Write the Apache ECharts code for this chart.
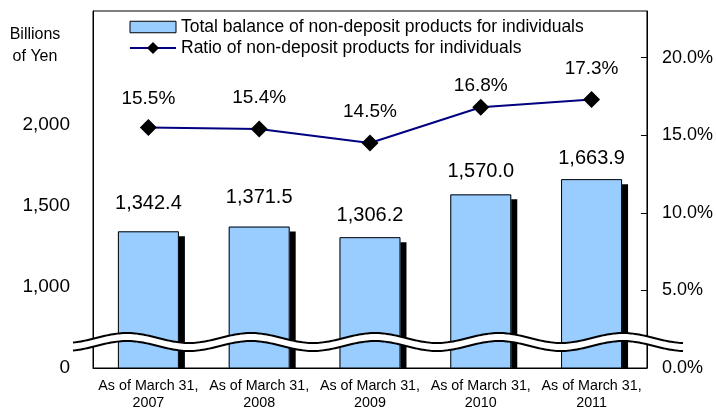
<!DOCTYPE html>
<html>
<head>
<meta charset="utf-8">
<script src="https://cdn.jsdelivr.net/npm/echarts@6/dist/echarts.min.js"></script>
<style>
html,body{margin:0;padding:0;background:#fff;}
#chart{width:716px;height:412px;}
</style>
</head>
<body>
<div id="chart"></div>
<script>
var categories = ["As of March 31,\n2007", "As of March 31,\n2008", "As of March 31,\n2009", "As of March 31,\n2010", "As of March 31,\n2011"];
var balanceValues = [1342.4, 1371.5, 1306.2, 1570.0, 1663.9];
var ratioValues = [15.5, 15.4, 14.5, 16.8, 17.3];
var seriesNames = ["Total balance of non-deposit products for individuals", "Ratio of non-deposit products for individuals"];
var leftAxisName = "Billions\nof Yen";

var FONT = "'Liberation Sans', Arial, sans-serif";
var chart = echarts.init(document.getElementById('chart'), null, {renderer: 'canvas'});

// decorative axis-break wave
function wavePts(offset) {
  var pts = [];
  for (var x = 73; x <= 683; x += 2) {
    pts.push([x, 338 - 5 * Math.cos(2 * Math.PI * (x - 127) / 124) + offset]);
  }
  return pts;
}
var up = wavePts(0), lo = wavePts(8);
var band = up.concat(lo.slice().reverse());

var barLabelDist = [18, 19, 12, 13, 11];
var lineLabelDist = [11, 13, 13, 3, 13];

var option = {
  animation: false,
  textStyle: {fontFamily: FONT, color: '#000'},
  grid: {left: 93, right: 67, top: 11, bottom: 44, show: true, borderColor: '#000', borderWidth: 1, backgroundColor: 'transparent'},
  legend: {
    orient: 'vertical', left: 124, top: 13, itemWidth: 46, itemHeight: 15, itemGap: 3,
    textStyle: {fontFamily: FONT, fontSize: 17.5, color: '#000'},
    data: [
      {name: seriesNames[0], icon: 'path://M0,0H44V11H0Z', itemStyle: {color: '#99CCFF', borderColor: '#000', borderWidth: 1}},
      {name: seriesNames[1]}
    ]
  },
  xAxis: {
    type: 'category', data: categories,
    axisLine: {lineStyle: {color: '#000', width: 1}},
    axisTick: {inside: true, length: 5, lineStyle: {color: '#000'}},
    axisLabel: {fontFamily: FONT, fontSize: 14.3, lineHeight: 17, color: '#000', margin: 10, interval: 0}
  },
  yAxis: [{
    type: 'value', min: 500, max: 2700, interval: 500,
    axisLine: {show: true, lineStyle: {color: '#000'}},
    axisTick: {show: false},
    splitLine: {show: false},
    axisLabel: {
      fontFamily: FONT, fontSize: 19, color: '#000', margin: 23, showMaxLabel: false,
      formatter: function (v) {
        if (v === 500) return '0';
        if (v === 2500) return '';
        return v.toLocaleString('en-US');
      }
    }
  }, {
    type: 'value', min: 0, max: 23, interval: 5, position: 'right',
    axisLine: {show: true, lineStyle: {color: '#000'}},
    axisTick: {show: true, inside: true, length: 6, lineStyle: {color: '#000'}},
    splitLine: {show: false},
    axisLabel: {
      fontFamily: FONT, fontSize: 18, color: '#000', margin: 15, showMaxLabel: false,
      formatter: function (v) { return v.toFixed(1) + '%'; }
    }
  }],
  series: [{
    name: seriesNames[0], type: 'bar', yAxisIndex: 0, barWidth: 61, z: 2,
    itemStyle: {color: '#99CCFF', borderWidth: 0,
      shadowColor: '#000', shadowBlur: 0, shadowOffsetX: 6, shadowOffsetY: 5},
    data: balanceValues.map(function (v, i) {
      return {value: v, label: {distance: barLabelDist[i]}};
    }),
    label: {show: true, position: 'top', fontFamily: FONT, fontSize: 20, color: '#000',
      formatter: function (p) { return p.value.toLocaleString('en-US', {minimumFractionDigits: 1, maximumFractionDigits: 1}); }}
  }, {
    name: 'outline', type: 'bar', yAxisIndex: 0, barWidth: 61, barGap: '-100%', z: 3, silent: true,
    itemStyle: {color: 'rgba(0,0,0,0)', borderColor: '#000', borderWidth: 1},
    data: balanceValues
  }, {
    name: seriesNames[1], type: 'line', yAxisIndex: 1, z: 5,
    symbol: 'diamond', symbolSize: 17,
    lineStyle: {color: '#000080', width: 2},
    itemStyle: {color: '#000'},
    data: ratioValues.map(function (v, i) {
      return {value: v, label: {distance: lineLabelDist[i]}};
    }),
    label: {show: true, position: 'top', fontFamily: FONT, fontSize: 19, color: '#000',
      formatter: function (p) { return p.value.toFixed(1) + '%'; }}
  }],
  graphic: [
    {type: 'rect', z: 50, silent: true, shape: {x: 94, y: 369, width: 560, height: 7}, style: {fill: '#fff'}},
    {type: 'polygon', z: 60, silent: true, shape: {points: band}, style: {fill: '#fff', stroke: null}},
    {type: 'polyline', z: 61, silent: true, shape: {points: up}, style: {stroke: '#000', lineWidth: 2, fill: null}},
    {type: 'polyline', z: 61, silent: true, shape: {points: lo}, style: {stroke: '#000', lineWidth: 2, fill: null}},
    {type: 'text', z: 10, left: 5, top: 24, style: {text: leftAxisName, font: '16px ' + FONT, fill: '#000', textAlign: 'center', lineHeight: 22, width: 60}}
  ]
};
chart.setOption(option);
</script>
</body>
</html>
